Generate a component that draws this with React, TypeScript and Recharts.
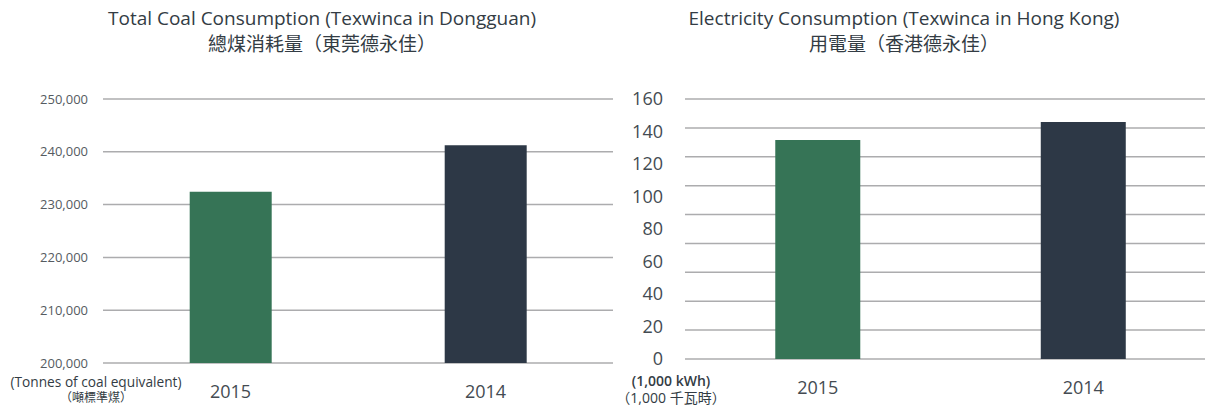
import React from 'react';
import { BarChart, Bar, XAxis, YAxis, CartesianGrid, Cell } from 'recharts';

const YEARS = ['2015', '2014'];
const COAL_TONNES = [232450, 241250];
const ELECTRICITY_KWH = [134.8, 145.8];
const COAL_TICKS = [200000, 210000, 220000, 230000, 240000, 250000];
const ELEC_TICKS = [0, 20, 40, 60, 80, 100, 120, 140, 160];
const BAR_COLORS = ['#367456', '#2d3846'];

const coalData = YEARS.map((year, i) => ({ year, value: COAL_TONNES[i] }));
const elecData = YEARS.map((year, i) => ({ year, value: ELECTRICITY_KWH[i] }));

const FONT = '"Open Sans", "Noto Sans CJK SC", sans-serif';
const FONT_TC = '"Open Sans", "Noto Sans CJK TC", sans-serif';
const GRID = '#acacae';
const TEXT = '#333c44';

// right chart: plot spans 99..359, but the original grid has 10 rules, not 9
const ELEC_TOP = 99;
const ELEC_BOTTOM = 359;
const elecGridPoints = Array.from({ length: 10 }, (_, i) => ELEC_TOP + (i * (ELEC_BOTTOM - ELEC_TOP)) / 9);

const fmt = (v: number) => v.toLocaleString('en-US');

const titleStyle: React.CSSProperties = {
  position: 'absolute',
  top: 5,
  width: 600,
  textAlign: 'center',
  color: TEXT,
  fontSize: 19,
  lineHeight: '26px',
  whiteSpace: 'nowrap',
};

export default function App() {
  return (
    <div style={{ position: 'absolute', left: 0, top: 0, width: 1205, height: 406, overflow: 'hidden', background: '#fff', fontFamily: FONT }}>
      <div style={{ ...titleStyle, left: 22 }}>
        <div>Total Coal Consumption (Texwinca in Dongguan)</div>
        <div>總煤消耗量（東莞德永佳）</div>
      </div>
      <div style={{ ...titleStyle, left: 604 }}>
        <div>Electricity Consumption (Texwinca in Hong Kong)</div>
        <div>用電量（香港德永佳）</div>
      </div>

      <div style={{ position: 'absolute', left: 0, top: 0 }}>
        <BarChart width={620} height={406} data={coalData} margin={{ top: 99, right: 7, bottom: 0, left: 8 }} barCategoryGap="34%">
          <CartesianGrid vertical={false} stroke={GRID} strokeWidth={1.5} />
          <XAxis dataKey="year" axisLine={false} tickLine={false} tickSize={0} tickMargin={22} height={43}
            tick={{ fontSize: 18, fill: '#444b52' }} />
          <YAxis domain={[200000, 250000]} ticks={COAL_TICKS} tickFormatter={fmt} axisLine={false} tickLine={false}
            tickSize={0} tickMargin={15} width={95} tick={{ fontSize: 13, fill: '#555b61' }} />
          <Bar dataKey="value" isAnimationActive={false}>
            {coalData.map((d, i) => (
              <Cell key={d.year} fill={BAR_COLORS[i]} />
            ))}
          </Bar>
        </BarChart>
      </div>

      <div style={{ position: 'absolute', left: 600, top: 0 }}>
        <BarChart width={620} height={406} data={elecData} margin={{ top: ELEC_TOP, right: 4, bottom: 0, left: 0 }} barCategoryGap="34%">
          <CartesianGrid vertical={false} stroke={GRID} strokeWidth={1.5} horizontalPoints={elecGridPoints} />
          <XAxis dataKey="year" axisLine={false} tickLine={false} tickSize={0} tickMargin={22} height={47}
            tick={{ fontSize: 18, fill: '#444b52' }} />
          <YAxis domain={[0, 160]} ticks={ELEC_TICKS} axisLine={false} tickLine={false}
            tickSize={0} tickMargin={22} width={85} tick={{ fontSize: 18, fill: '#444b52' }} />
          <Bar dataKey="value" isAnimationActive={false}>
            {elecData.map((d, i) => (
              <Cell key={d.year} fill={BAR_COLORS[i]} />
            ))}
          </Bar>
        </BarChart>
      </div>

      <div style={{ position: 'absolute', left: 0, top: 374, width: 192, textAlign: 'center', color: TEXT, lineHeight: '16px', whiteSpace: 'nowrap' }}>
        <div style={{ fontSize: 13.7 }}>(Tonnes of coal equivalent)</div>
        <div style={{ fontSize: 12, fontFamily: FONT_TC }}>（噸標準煤）</div>
      </div>
      <div style={{ position: 'absolute', left: 611, top: 372, width: 120, textAlign: 'center', color: TEXT, lineHeight: '17px', whiteSpace: 'nowrap' }}>
        <div style={{ fontSize: 14, fontWeight: 600 }}>(1,000 kWh)</div>
        <div style={{ fontSize: 14, fontFamily: FONT_TC }}>（1,000 千瓦時）</div>
      </div>
    </div>
  );
}
